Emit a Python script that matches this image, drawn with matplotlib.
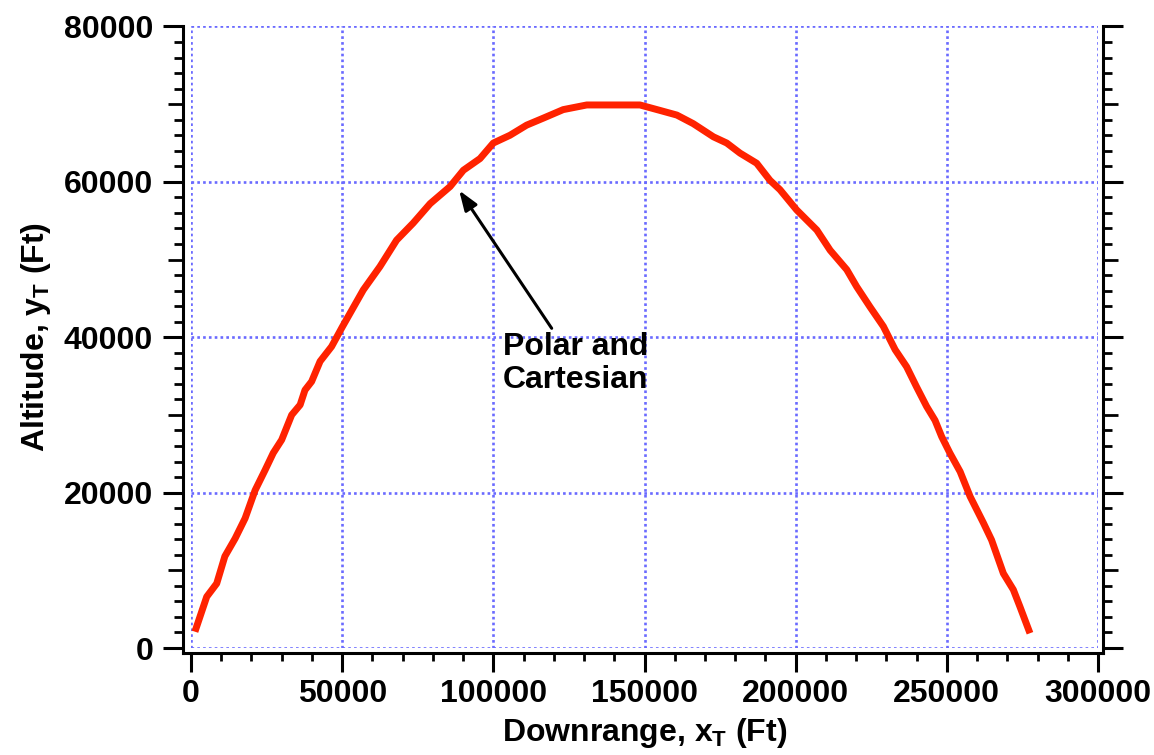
import matplotlib
matplotlib.use("Agg")
import matplotlib.pyplot as plt
from matplotlib.ticker import MultipleLocator

plt.rcParams['font.family'] = ['Liberation Sans', 'DejaVu Sans']
plt.rcParams['font.weight'] = 'bold'
plt.rcParams['mathtext.fontset'] = 'custom'
plt.rcParams['mathtext.rm'] = 'Liberation Sans:bold'
plt.rcParams['mathtext.it'] = 'Liberation Sans:bold'
plt.rcParams['mathtext.bf'] = 'Liberation Sans:bold'

# trajectory: downrange (ft) and altitude (ft)
downrange = [1300, 5200, 8500, 11200, 14600, 17900, 21200, 24500, 27200, 30000,
             33300, 36100, 37700, 39900, 42700, 46500, 50000, 57000, 62500,
             68000, 73500, 79100, 85700, 90100, 95600, 100000, 105500, 111000, 116500,
             123100, 130900, 148500, 155100, 160700, 166100, 172800, 177200, 181600, 187100,
             191500, 194800, 200300, 207000, 211400, 216900, 220200, 224600, 229000, 232900,
             236700, 240000, 243300, 246100, 248300, 251000, 254400, 257700, 262100, 264800,
             268700, 272000, 274200, 277500]
altitude = [2100, 6600, 8300, 11800, 14100, 16700, 20300, 22900, 25100, 26800,
            30000, 31300, 33200, 34300, 36900, 38800, 41300, 46100, 49100,
            52500, 54700, 57200, 59400, 61500, 63000, 65000, 66000, 67300, 68200,
            69300, 69900, 69900, 69200, 68600, 67500, 65800, 65000, 63700, 62400,
            60200, 59000, 56400, 53800, 51200, 48700, 46500, 43900, 41400, 38400,
            36200, 33600, 31100, 29300, 27200, 25100, 22700, 19500, 16100, 13900,
            9600, 7500, 5300, 1900]

note_text = "Polar and\nCartesian"
note_tip = (88700, 58900)
note_tail = (119300, 41150)
note_pos = (103200, 40700)

fig = plt.figure(figsize=(11.54, 7.55), dpi=100)
ax = fig.add_axes([191 / 1154, 107 / 755, 907 / 1154, 621.5 / 755])

ax.plot(downrange, altitude, color='#ff2200', lw=5.0, solid_capstyle='butt',
        solid_joinstyle='round', zorder=3)

ax.set_xlim(0, 300000)
ax.set_ylim(0, 80000)
ax.xaxis.set_major_locator(MultipleLocator(50000))
ax.xaxis.set_minor_locator(MultipleLocator(10000))
ax.yaxis.set_major_locator(MultipleLocator(20000))
ax.yaxis.set_minor_locator(MultipleLocator(2000))

ax.grid(True, which='major', color='#6a6aff', lw=1.9, linestyle=(0, (1, 1.2)))

# tecplot-like frame: offset spines, no top line
ax.spines['top'].set_visible(False)
ax.spines['left'].set_position(('outward', 5.8))
ax.spines['bottom'].set_position(('outward', 3.6))
ax.spines['right'].set_position(('outward', 3.6))
for s in ['left', 'bottom', 'right']:
    ax.spines[s].set_linewidth(2.2)
ax.spines['bottom'].set_bounds(-2646, 301654)
ax.spines['left'].set_bounds(-644, 80000)
ax.spines['right'].set_bounds(-644, 80000)

ax.tick_params(axis='x', which='major', length=14, width=2.2, pad=5, labelsize=23)
ax.tick_params(axis='x', which='minor', length=6, width=2.0)
ax.tick_params(axis='y', which='both', left=True, right=True)
ax.tick_params(axis='y', which='major', length=14.4, width=2.2, pad=7, labelsize=23)
ax.tick_params(axis='y', which='minor', length=6.5, width=2.0)

ax.set_xlabel(r"Downrange, $x_T$ (Ft)", fontsize=23, fontweight='bold', labelpad=5)
ax.set_ylabel(r"Altitude, $y_T$ (Ft)", fontsize=23, fontweight='bold', labelpad=8)

ax.annotate('', xy=note_tip, xytext=note_tail,
            arrowprops=dict(arrowstyle='-|>,head_length=0.5,head_width=0.18',
                            lw=2.2, color='black', mutation_scale=24,
                            shrinkA=0, shrinkB=0))
ax.text(note_pos[0], note_pos[1], note_text, fontsize=23, fontweight='bold',
        ha='left', va='top', linespacing=1.15)

# longer ticks at the odd ten-thousands on the altitude axis
locs = ax.yaxis.get_minorticklocs()
for loc, t in zip(locs, ax.yaxis.get_minor_ticks(len(locs))):
    if abs(loc % 10000) < 1:
        t.tick1line.set_markersize(10.5)
        t.tick2line.set_markersize(10.5)

fig.savefig('out.png', dpi=100)
